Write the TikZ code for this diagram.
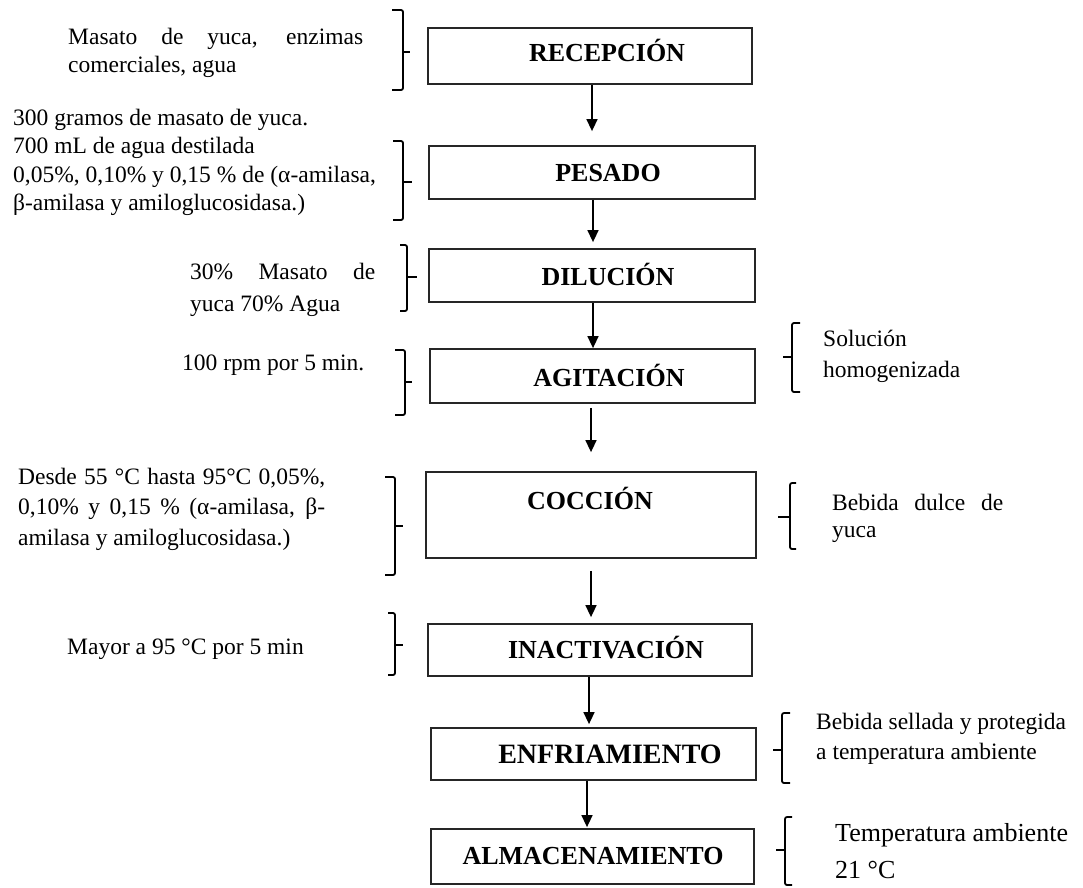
\documentclass[tikz,border=0pt]{standalone}
\usepackage{fontspec}
\setmainfont{Liberation Serif}
\usetikzlibrary{arrows.meta}
\hyphenpenalty=10000
\exhyphenpenalty=10000
\tolerance=9999
\begin{document}
\begin{tikzpicture}[x=1pt,y=-1pt,
  box/.style={draw=black!85, line width=1.8pt, rectangle, inner sep=0pt},
  hdr/.style={font=\bfseries\fontsize{26}{30}\selectfont, anchor=base, inner sep=0pt},
  note/.style={font=\fontsize{23.5}{28.5}\selectfont, inner sep=0pt, anchor=base west},
  brk/.style={line width=1.8pt, rounded corners=2pt},
  arr/.style={-{Triangle[length=12pt,width=11pt]}, line width=1.5pt}]
\useasboundingbox (0,0) rectangle (1083,887);

% process boxes
\node[box, minimum width=324pt, minimum height=56pt] (rec) at (590,56) {};
\node[hdr] (recT) at (607,61) {RECEPCIÓN};
\node[box, minimum width=326pt, minimum height=53pt] (pes) at (592,172.5) {};
\node[hdr] (pesT) at (608,181) {PESADO};
\node[box, minimum width=326pt, minimum height=53pt] (dil) at (592,275.5) {};
\node[hdr] (dilT) at (608,285) {DILUCIÓN};
\node[box, minimum width=325pt, minimum height=54pt] (agi) at (592.5,376) {};
\node[hdr] (agiT) at (609,386) {AGITACIÓN};
\node[box, minimum width=330pt, minimum height=86pt] (coc) at (591,515) {};
\node[hdr] (cocT) at (590,509) {COCCIÓN};
\node[box, minimum width=324pt, minimum height=52pt] (ina) at (590,650) {};
\node[hdr] (inaT) at (606,658) {INACTIVACIÓN};
\node[box, minimum width=325pt, minimum height=52pt] (enf) at (593.5,754) {};
\node[hdr, font=\bfseries\fontsize{28}{32}\selectfont] (enfT) at (610,763) {ENFRIAMIENTO};
\node[box, minimum width=323pt, minimum height=55pt] (alm) at (592.5,856.5) {};
\node[hdr] (almT) at (593,864) {ALMACENAMIENTO};

% arrows
\draw[arr, shorten >=14pt] ([xshift=2pt]rec.south) -- ([xshift=2pt]rec.south |- pes.north);
\draw[arr, shorten >=6pt] ([xshift=1pt]pes.south) -- ([xshift=1pt]pes.south |- dil.north);
\draw[arr] ([xshift=1pt]dil.south) -- ([xshift=1pt]dil.south |- agi.north);
\draw[arr, shorten <=4pt, shorten >=19pt] ([xshift=-1.5pt]agi.south) -- ([xshift=-1.5pt]agi.south |- coc.north);
\draw[arr, shorten <=12pt, shorten >=6pt] (coc.south) -- (coc.south |- ina.north);
\draw[arr, shorten >=3pt] ([xshift=-1pt]ina.south) -- ([xshift=-1pt]ina.south |- enf.north);
\draw[arr, shorten >=1pt] ([xshift=-6.5pt]enf.south) -- ([xshift=-6.5pt]enf.south |- alm.north);

% left brackets
\draw[brk] (392,10) -- (403,10) -- (403,90) -- (392,90);
\draw[brk] (403,52) -- (410,52);
\draw[brk] (393,141) -- (403,141) -- (403,220) -- (393,220);
\draw[brk] (403,182) -- (412,182);
\draw[brk] (400,245) -- (407,245) -- (407,311) -- (400,311);
\draw[brk] (407,277) -- (417,277);
\draw[brk] (395,350) -- (405,350) -- (405,415) -- (395,415);
\draw[brk] (405,382) -- (412,382);
\draw[brk] (385,477) -- (395,477) -- (395,575) -- (385,575);
\draw[brk] (395,526) -- (403,526);
\draw[brk] (388,613) -- (395,613) -- (395,675) -- (388,675);
\draw[brk] (395,645) -- (403,645);

% right brackets
\draw[brk] (800,323) -- (792,323) -- (792,392) -- (800,392);
\draw[brk] (792,357) -- (783,357);
\draw[brk] (796,483) -- (790,483) -- (790,549) -- (796,549);
\draw[brk] (790,517) -- (778,517);
\draw[brk] (790,713) -- (782,713) -- (782,783) -- (790,783);
\draw[brk] (782,750) -- (773,750);
\draw[brk] (792,817) -- (785,817) -- (785,885) -- (792,885);
\draw[brk] (785,850) -- (776,850);

% left notes
\node[note, text width=295pt, align=justify, font=\fontsize{23.5}{28}\selectfont] (n1) at (68,44)
  {Masato de yuca, enzimas\linebreak comerciales, agua};
\node[note, text width=380pt, align=flush left] (n2) at (13,125)
  {300 gramos de masato de yuca.\\700 mL de agua destilada\\0,05\%, 0,10\% y 0,15 \% de (α-amilasa,\\β-amilasa y amiloglucosidasa.)};
\node[note, text width=185pt, align=justify, font=\fontsize{23.5}{32}\selectfont] (n3) at (190,279)
  {30\% Masato de\linebreak yuca 70\% Agua};
\node[note] (n4) at (182,370) {100 rpm por 5 min.};
\node[note, text width=307pt, align=justify, font=\fontsize{23.5}{30.5}\selectfont] (n5) at (18,484)
  {Desde 55 °C hasta 95°C 0,05\%,\linebreak 0,10\% y 0,15 \% (α-amilasa, β-\linebreak amilasa y amiloglucosidasa.)};
\node[note] (n6) at (67,654) {Mayor a 95 °C por 5 min};

% right notes
\node[note, text width=220pt, align=flush left, font=\fontsize{23.5}{31}\selectfont] (n7) at (823,346)
  {Solución\\homogenizada};
\node[note, text width=171pt, align=justify, font=\fontsize{23.5}{27}\selectfont] (n8) at (832,510)
  {Bebida dulce de\linebreak yuca};
\node[note, text width=262pt, align=flush left, font=\fontsize{23.5}{30}\selectfont] (n9) at (816,729)
  {Bebida sellada y protegida\\a temperatura ambiente};
\node[note, text width=245pt, align=flush left, font=\fontsize{26}{37}\selectfont] (n10) at (835,841)
  {Temperatura ambiente\\21 °C};
\end{tikzpicture}
\end{document}
